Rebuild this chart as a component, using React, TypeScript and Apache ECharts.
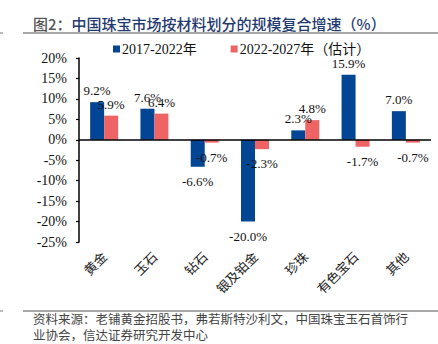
import React, { useEffect, useRef } from "react";
import * as echarts from "echarts";

const categories = ["黄金", "玉石", "钻石", "银及铂金", "珍珠", "有色宝石", "其他"];
const series2017 = [9.2, 7.6, -6.6, -20.0, 2.3, 15.9, 7.0];
const series2022 = [5.9, 6.4, -0.7, -2.3, 4.8, -1.7, -0.7];
const seriesNames = ["2017-2022年", "2022-2027年（估计）"];
const yTicks = { min: -25, max: 20, interval: 5 };

const SERIF = "'Liberation Serif', 'Times New Roman', 'Noto Sans CJK SC', serif";
const CJK = "'Noto Sans CJK SC', 'Liberation Serif', serif";

function toItems(vals: number[]) {
  return vals.map((v) => ({
    value: v,
    label: { position: v >= 0 ? "top" : "bottom", distance: v >= 0 ? 5 : 8 },
  }));
}

export default function App() {
  const ref = useRef<HTMLDivElement>(null);
  useEffect(() => {
    if (!ref.current) return;
    const chart = echarts.init(ref.current, undefined, { renderer: "svg" });
    const labelCommon = {
      show: true,
      fontFamily: SERIF,
      fontSize: 13,
      color: "#111",
      formatter: (p: any) => Number(p.value).toFixed(1) + "%",
    };
    chart.setOption({
      animation: false,
      backgroundColor: "#fff",
      grid: { left: 79, right: 7, top: 58, bottom: 102 },
      legend: {
        left: 108,
        top: 37,
        icon: "rect",
        itemWidth: 7,
        itemHeight: 7,
        itemGap: 34,
        textStyle: { fontFamily: SERIF, fontSize: 14, color: "#111", padding: [0, 0, 0, -3] },
        data: seriesNames,
      },
      xAxis: {
        type: "category",
        data: categories,
        axisLine: { show: false, onZero: false },
        axisTick: { show: false },
        axisLabel: {
          rotate: 45,
          margin: 12,
          fontFamily: CJK,
          fontSize: 13,
          color: "#222",
          interval: 0,
        },
      },
      yAxis: {
        type: "value",
        min: yTicks.min,
        max: yTicks.max,
        interval: yTicks.interval,
        axisLine: { show: true, lineStyle: { color: "#000", width: 1.5 } },
        axisTick: { show: true, length: 3, lineStyle: { color: "#000", width: 1.2 } },
        splitLine: { show: false },
        axisLabel: {
          fontFamily: SERIF,
          fontSize: 14,
          color: "#111",
          margin: 12,
          formatter: (v: number) => v + "%",
        },
      },
      series: [
        {
          name: seriesNames[0],
          type: "bar",
          data: toItems(series2017),
          barWidth: 14,
          barGap: "0%",
          itemStyle: { color: "#034595" },
          label: labelCommon,
          markLine: {
            silent: true,
            symbol: "none",
            label: { show: false },
            lineStyle: { color: "#000", width: 1.5, type: "solid" },
            data: [{ yAxis: 0 }],
          },
        },
        {
          name: seriesNames[1],
          type: "bar",
          data: toItems(series2022),
          barWidth: 14,
          barGap: "0%",
          itemStyle: { color: "#ee6363" },
          label: labelCommon,
        },
      ],
      graphic: [
        {
          type: "text",
          x: 33,
          y: 23,
          style: {
            text: "{a|图2：}{b|中国珠宝市场按材料划分的规模复合增速（%）}",
            verticalAlign: "middle",
            rich: {
              a: { fontFamily: CJK, fontSize: 15, fontWeight: 500, fill: "#555" },
              b: { fontFamily: CJK, fontSize: 15, fontWeight: 500, fill: "#1f3a70" },
            },
          },
        },
        {
          type: "line",
          shape: { x1: 23, y1: 33, x2: 438, y2: 33 },
          style: { stroke: "#8a8a8a", lineWidth: 1.5 },
        },
        {
          type: "line",
          shape: { x1: 0, y1: 33, x2: 3, y2: 33 },
          style: { stroke: "#777", lineWidth: 1 },
        },
        {
          type: "line",
          shape: { x1: 23, y1: 311, x2: 438, y2: 311 },
          style: { stroke: "#8a8a8a", lineWidth: 1.5 },
        },
        {
          type: "line",
          shape: { x1: 0, y1: 311, x2: 3, y2: 311 },
          style: { stroke: "#777", lineWidth: 1 },
        },
        {
          type: "text",
          x: 33,
          y: 318.5,
          style: {
            text: "资料来源：老铺黄金招股书，弗若斯特沙利文，中国珠宝玉石首饰行",
            verticalAlign: "middle",
            fontFamily: CJK,
            fontSize: 12.5,
            fill: "#444",
          },
        },
        {
          type: "text",
          x: 33,
          y: 334.5,
          style: {
            text: "业协会，信达证券研究开发中心",
            verticalAlign: "middle",
            fontFamily: CJK,
            fontSize: 12.5,
            fill: "#444",
          },
        },
      ],
    });
    return () => chart.dispose();
  }, []);
  return <div ref={ref} style={{ width: 438, height: 344, position: "absolute", left: 0, top: 0 }} />;
}
